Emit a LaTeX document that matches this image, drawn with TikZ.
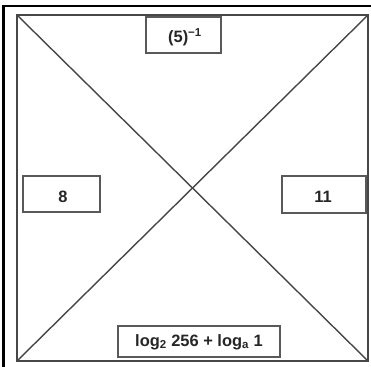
\documentclass[tikz,border=0pt]{standalone}
\usepackage{fontspec}
\setmainfont{Liberation Sans}
\begin{document}
\begin{tikzpicture}[x=1bp,y=-1bp,
  edge/.style={draw=black!72,line width=1.4bp},
  card/.style={draw=black!65,line width=1.3bp,fill=white,inner sep=0pt},
  lbl/.style={text=black!85,font=\fontsize{16.5}{18}\selectfont\bfseries}]
\useasboundingbox (0,0) rectangle (371,367);
% scan frame
\draw[line width=3bp] (3.5,5) -- (3.5,367);
\draw[line width=2.4bp] (2,6.2) -- (371,6.2);
% square corners
\coordinate (tl) at (17,15);
\coordinate (tr) at (368,15);
\coordinate (br) at (368,361);
\coordinate (bl) at (17,361);
\draw[edge] (tl) -- (tr) -- (br) -- (bl) -- cycle;
\draw[edge] (tl) -- (br);
\draw[edge] (tr) -- (bl);
% boxes
\draw[card] (146,17) rectangle (221,53);
\node[lbl] (top) at (185,37) {(5)\textsuperscript{−1}};
\draw[card] (23,176) rectangle (100,212);
\node[lbl] (left) at (63,197) {8};
\draw[card] (282,176) rectangle (366,213);
\node[lbl] (right) at (323,197) {11};
\draw[card] (118,326) rectangle (280,357);
\node[lbl] (bottom) at (199,342) {log\textsubscript{2} 256 + log\textsubscript{a} 1};
\end{tikzpicture}
\end{document}
